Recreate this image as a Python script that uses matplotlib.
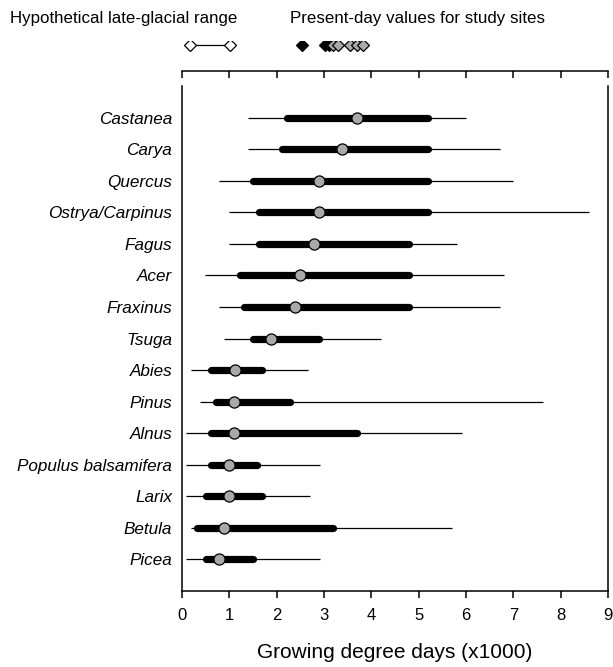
import numpy as np
import matplotlib
matplotlib.use('Agg')
import matplotlib.pyplot as plt

plt.rcParams['font.family'] = ['Liberation Sans', 'DejaVu Sans']

# taxa, top to bottom
taxa = ['Castanea', 'Carya', 'Quercus', 'Ostrya/Carpinus', 'Fagus', 'Acer',
        'Fraxinus', 'Tsuga', 'Abies', 'Pinus', 'Alnus', 'Populus balsamifera',
        'Larix', 'Betula', 'Picea']
# full range (thin line)
lo_full = [1.39, 1.39, 0.79, 0.99, 0.99, 0.49, 0.79, 0.89, 0.19, 0.39, 0.08, 0.08, 0.08, 0.19, 0.08]
hi_full = [6.01, 6.71, 7.00, 8.60, 5.81, 6.81, 6.71, 4.21, 2.66, 7.62, 5.91, 2.91, 2.71, 5.71, 2.91]
# inner range (thick bar)
lo_in = [2.21, 2.11, 1.51, 1.63, 1.63, 1.23, 1.32, 1.51, 0.61, 0.71, 0.61, 0.61, 0.51, 0.31, 0.51]
hi_in = [5.19, 5.19, 5.19, 5.19, 4.79, 4.79, 4.79, 2.89, 1.68, 2.28, 3.69, 1.59, 1.68, 3.19, 1.49]
# median
med = [3.69, 3.39, 2.90, 2.90, 2.79, 2.49, 2.39, 1.89, 1.11, 1.09, 1.09, 0.99, 0.99, 0.89, 0.79]

# top legend values
glacial = [0.17, 1.01]
sites_black = [2.53, 3.02, 3.10]
sites_grey = [3.20, 3.29, 3.55, 3.69, 3.83]

xticks = list(range(10))

fig = plt.figure(figsize=(6.13, 6.67), dpi=100)
ax = fig.add_axes([182/613, 1 - 591/667, 426/613, (591 - 86)/667])
top = fig.add_axes([182/613, 1 - 71/667, 426/613, 30/667])

n = len(taxa)
ys = np.arange(n, 0, -1)
for y, a, b, c, d, m in zip(ys, lo_full, hi_full, lo_in, hi_in, med):
    ax.plot([a, b], [y, y], color='black', lw=0.9, solid_capstyle='butt', zorder=1)
    ax.plot([c, d], [y, y], color='black', lw=5.2, solid_capstyle='round', zorder=2)
    ax.plot(m, y, 'o', ms=8, mfc='#a9a9a9', mec='black', mew=0.9, zorder=3)

ax.set_xlim(0, 9)
ax.set_ylim(0, n + 1)
ax.set_yticks(ys)
ax.set_yticklabels(taxa, fontstyle='italic', fontsize=12.3)
ax.tick_params(axis='y', length=0, pad=7)
ax.set_xticks(xticks)
ax.tick_params(axis='x', length=5, width=1.1, direction='out', labelsize=12, pad=7)
ax.spines['top'].set_visible(False)
for s in ['left', 'right', 'bottom']:
    ax.spines[s].set_linewidth(1.1)
ax.set_xlabel('Growing degree days (x1000)', fontsize=15, labelpad=15)

# legend strip on top
top.set_xlim(0, 9)
top.set_ylim(0, 1)
top.plot(glacial, [0.87, 0.87], color='black', lw=0.9,
         marker='D', ms=6, mfc='white', mec='black', mew=0.9)
top.plot(sites_black, [0.87] * len(sites_black), 'D', ms=6, mfc='black', mec='black', mew=0.9, ls='none')
top.plot(sites_grey, [0.87] * len(sites_grey), 'D', ms=6, mfc='#a9a9a9', mec='black', mew=0.9, ls='none')
for s in ['left', 'right', 'top']:
    top.spines[s].set_visible(False)
top.spines['bottom'].set_linewidth(1.1)
top.set_xticks(xticks)
top.tick_params(axis='x', length=5, width=1.1, direction='out', labelbottom=False)
top.set_yticks([])
top.patch.set_alpha(0)

fig.text(10/613, 1 - 18/667, 'Hypothetical late-glacial range', fontsize=12.2, va='center', ha='left')
fig.text(290/613, 1 - 18/667, 'Present-day values for study sites', fontsize=12.2, va='center', ha='left')

fig.savefig('out.png', dpi=100)
